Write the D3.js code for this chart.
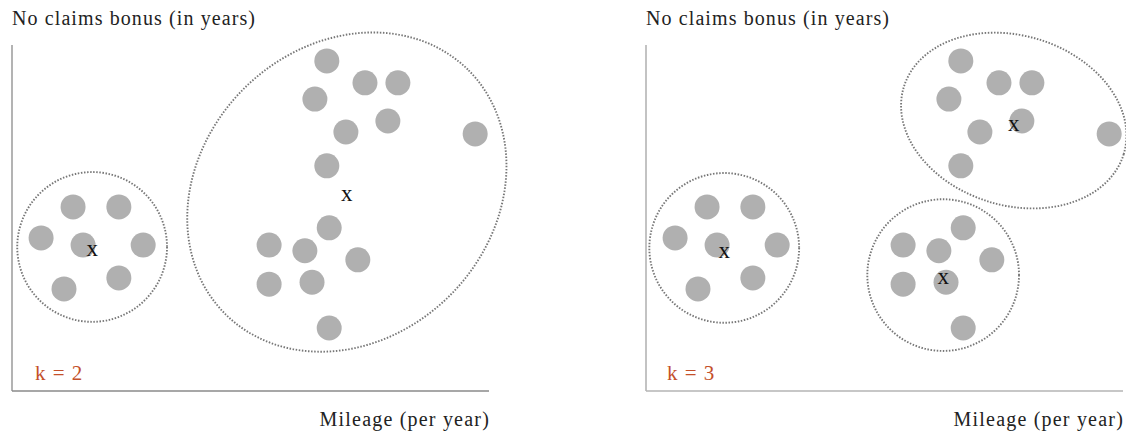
<!DOCTYPE html>
<html>
<head>
<meta charset="utf-8">
<script src="https://cdn.jsdelivr.net/npm/d3@7"></script>
<style>
  body { margin: 0; background: #fff; }
  text { font-family: "Liberation Serif", "DejaVu Serif", serif; }
</style>
</head>
<body>
<script>
// mileage / bonus positions of the customers (same for both panels)
var mileage = [12.8, 22.4, 6.1, 14.9, 27.5, 22.4, 10.9,
	66.0, 74.0, 80.9, 63.5, 78.8, 70.0, 97.1, 66.0,
	66.5, 53.9, 61.4, 72.5, 53.9, 62.9, 66.5];
var bonus = [38.6, 38.6, 32.1, 30.6, 30.6, 23.7, 21.4,
	69.2, 64.6, 64.6, 61.2, 56.6, 54.3, 53.9, 47.2,
	34.2, 30.6, 29.4, 27.5, 22.4, 22.8, 13.2];

// centroids per k
var kValues = [2, 3];
var centroidX = [[16.8, 70.2], [16.4, 77.1, 62.3]];
var centroidY = [[29.6, 41.1], [29.1, 55.8, 23.7]];

// cluster outlines per k (center, radii in data units, tilt in degrees)
var hullX = [[16.8, 70.2], [16.4, 77.1, 62.3]];
var hullY = [[30.2, 41.7], [30.0, 56.7, 24.3]];
var hullRx = [[15.7, 36.1], [15.7, 24.1, 15.9]];
var hullRy = [[15.7, 30.6], [15.7, 17.8, 15.9]];
var hullTilt = [[0, -45], [0, 17, 0]];

var yLabel = "No claims bonus (in years)";
var xLabel = "Mileage (per year)";

var W = 1126, H = 434;
var svg = d3.select("body").append("svg")
	.attr("width", W)
	.attr("height", H);

var panelLeft = [12, 646];
var top0 = 45, bottom0 = 391, plotW = 477;

kValues.forEach(function (k, p) {
	var x0 = panelLeft[p];
	var x = d3.scaleLinear().domain([0, 100]).range([x0, x0 + plotW]);
	var y = d3.scaleLinear().domain([0, (bottom0 - top0) / plotW * 100]).range([bottom0, top0]);
	var unit = plotW / 100; // px per data unit (same on both axes)

	var g = svg.append("g");

	// axes: just the two lines
	g.append("line")
		.attr("x1", x(0)).attr("y1", y.range()[1])
		.attr("x2", x(0)).attr("y2", y(0))
		.attr("stroke", p == 0 ? "#8a8a8a" : "#b4b4b4")
		.attr("stroke-width", p == 0 ? 1.3 : 1.6);
	g.append("line")
		.attr("x1", x(0)).attr("y1", y(0))
		.attr("x2", x(100)).attr("y2", y(0))
		.attr("stroke", p == 0 ? "#8a8a8a" : "#b4b4b4")
		.attr("stroke-width", p == 0 ? 1.3 : 1.6);

	// cluster outlines
	g.selectAll("ellipse.hull")
		.data(d3.range(hullX[p].length))
		.enter().append("ellipse")
		.attr("class", "hull")
		.attr("cx", 0).attr("cy", 0)
		.attr("rx", function (i) { return hullRx[p][i] * unit; })
		.attr("ry", function (i) { return hullRy[p][i] * unit; })
		.attr("transform", function (i) {
			return "translate(" + x(hullX[p][i]) + "," + y(hullY[p][i]) + ") rotate(" + hullTilt[p][i] + ")";
		})
		.attr("fill", "none")
		.attr("stroke", "#777")
		.attr("stroke-width", 1.9)
		.attr("stroke-dasharray", "1.5,1.6");

	// customers
	g.selectAll("circle.pt")
		.data(d3.range(mileage.length))
		.enter().append("circle")
		.attr("class", "pt")
		.attr("cx", function (i) { return x(mileage[i]); })
		.attr("cy", function (i) { return y(bonus[i]); })
		.attr("r", 12.5)
		.attr("fill", "#b0b0b0");

	// centroids
	g.selectAll("text.cen")
		.data(d3.range(centroidX[p].length))
		.enter().append("text")
		.attr("class", "cen")
		.attr("x", function (i) { return x(centroidX[p][i]); })
		.attr("y", function (i) { return y(centroidY[p][i]) + 6; })
		.attr("text-anchor", "middle")
		.attr("font-size", "23px")
		.attr("fill", "#111")
		.text("x");

	// labels
	g.append("text")
		.attr("x", x(0))
		.attr("y", 25)
		.attr("font-size", "20px")
		.attr("letter-spacing", "1.1px")
		.attr("fill", "#222")
		.text(yLabel);
	g.append("text")
		.attr("x", x(100) + 1)
		.attr("y", 426)
		.attr("text-anchor", "end")
		.attr("font-size", "20px")
		.attr("letter-spacing", "1.2px")
		.attr("fill", "#222")
		.text(xLabel);
	g.append("text")
		.attr("x", x(0) + (p == 0 ? 23 : 21))
		.attr("y", 380)
		.attr("font-size", "21px")
		.attr("letter-spacing", "1px")
		.attr("fill", "#c4502a")
		.text("k = " + k);
});
</script>
</body>
</html>
